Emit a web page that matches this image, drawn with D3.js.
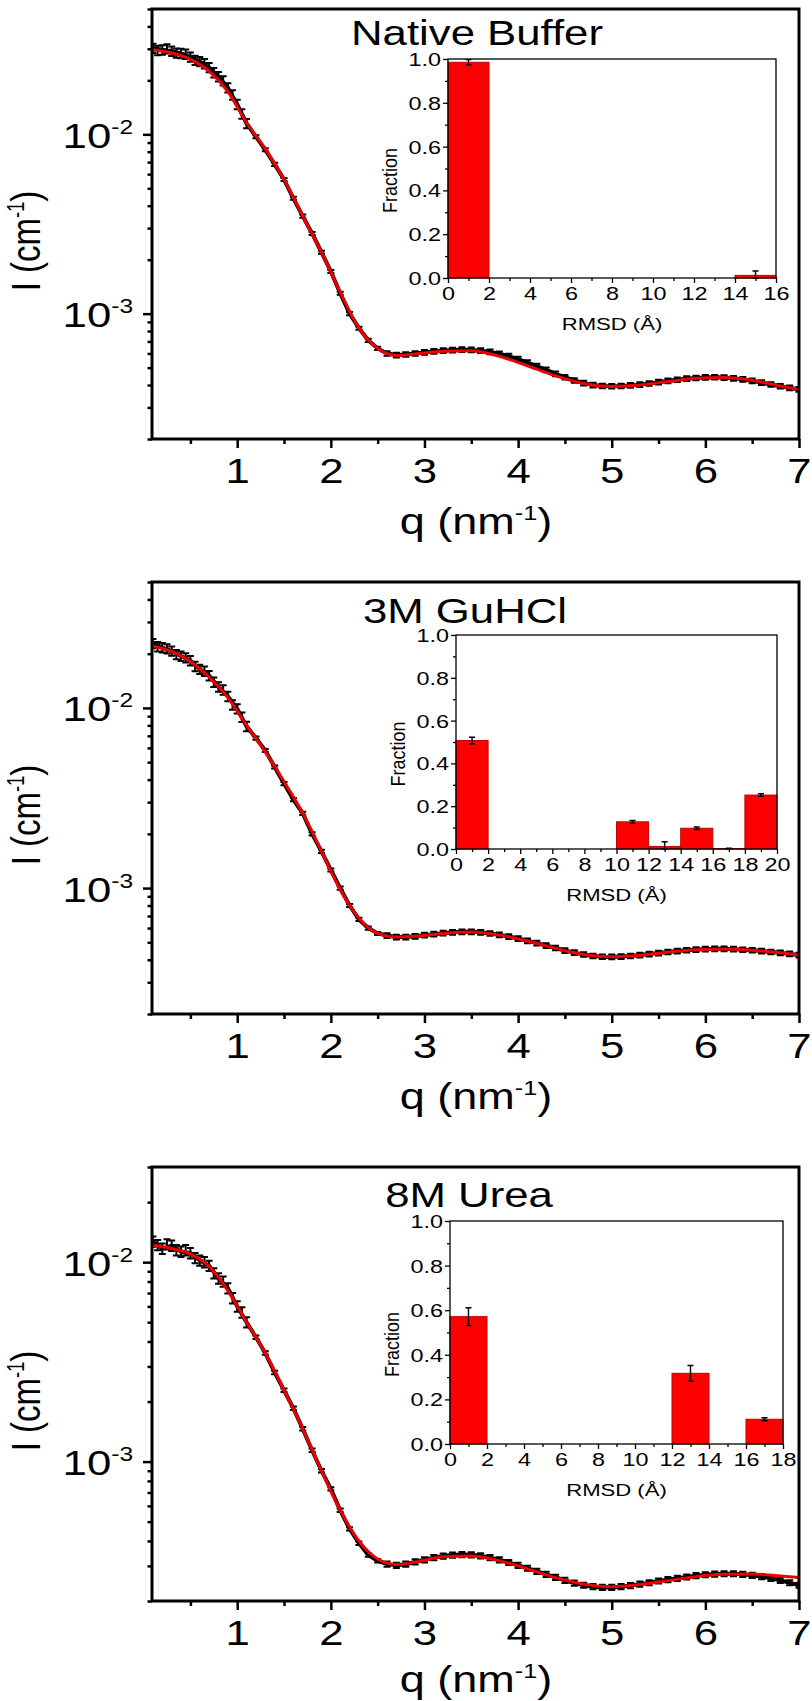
<!doctype html>
<html lang="en">
<head>
<meta charset="utf-8">
<title>SAXS fits with RMSD insets</title>
<script src="https://d3js.org/d3.v7.min.js"></script>
<style>
  body { margin: 0; background: #fff; }
  svg { display: block; }
  text { font-family: "Liberation Sans", Arial, Helvetica, sans-serif; fill: #000; }
</style>
</head>
<body>
<svg id="fig" width="812" height="1701"></svg>
<script>
// ---- data ----
const qData = [0.1, 0.2, 0.3, 0.4, 0.5, 0.6, 0.7, 0.8, 0.9, 1.0,
  1.1, 1.2, 1.3, 1.4, 1.5, 1.6, 1.7, 1.8, 1.9, 2.0,
  2.1, 2.2, 2.3, 2.4, 2.5, 2.6, 2.7, 2.8, 2.9, 3.0,
  3.1, 3.2, 3.3, 3.4, 3.5, 3.6, 3.7, 3.8, 3.9, 4.0,
  4.1, 4.2, 4.3, 4.4, 4.5, 4.6, 4.7, 4.8, 4.9, 5.0,
  5.1, 5.2, 5.3, 5.4, 5.5, 5.6, 5.7, 5.8, 5.9, 6.0,
  6.1, 6.2, 6.3, 6.4, 6.5, 6.6, 6.7, 6.8, 6.9, 7.0];

const nativeI = [0.0302, 0.0296, 0.0291, 0.0283, 0.0270, 0.0255, 0.0236, 0.0210, 0.0182, 0.0147,
  0.0115, 0.0097, 0.0082, 0.0068, 0.0056, 0.0044, 0.0035, 0.0028, 0.0022, 0.00172,
  0.00130, 0.00100, 0.00083, 0.00071, 0.00064, 0.000600, 0.000588, 0.000592, 0.000600, 0.000608,
  0.000616, 0.000622, 0.000627, 0.000630, 0.000628, 0.000622, 0.000612, 0.000598, 0.000580, 0.000558,
  0.000534, 0.000510, 0.000486, 0.000462, 0.000442, 0.000424, 0.000410, 0.000400, 0.000395, 0.000394,
  0.000395, 0.000398, 0.000402, 0.000408, 0.000415, 0.000422, 0.000428, 0.000434, 0.000438, 0.000441,
  0.000442, 0.000440, 0.000436, 0.000430, 0.000422, 0.000413, 0.000403, 0.000394, 0.000386, 0.000378];

const guhclI = [0.0228, 0.0216, 0.0207, 0.0194, 0.0183, 0.0164, 0.0151, 0.0131, 0.0116, 0.0099,
  0.0079, 0.0068, 0.0058, 0.0047, 0.0038, 0.0031, 0.0026, 0.0020, 0.00160, 0.00126,
  0.00100, 0.00080, 0.00067, 0.00060, 0.00056, 0.000545, 0.000535, 0.000535, 0.000540, 0.000548,
  0.000555, 0.000562, 0.000568, 0.000572, 0.000572, 0.000568, 0.000560, 0.000550, 0.000538, 0.000525,
  0.000510, 0.000495, 0.000480, 0.000465, 0.000450, 0.000438, 0.000428, 0.000420, 0.000416, 0.000415,
  0.000417, 0.000420, 0.000425, 0.000430, 0.000436, 0.000442, 0.000447, 0.000452, 0.000456, 0.000458,
  0.000460, 0.000460, 0.000458, 0.000455, 0.000452, 0.000447, 0.000442, 0.000437, 0.000431, 0.000425];

const ureaI = [0.0127, 0.0117, 0.0121, 0.0113, 0.0111, 0.0102, 0.0096, 0.0083, 0.0074, 0.0060,
  0.0050, 0.0042, 0.0035, 0.0028, 0.00228, 0.00185, 0.00146, 0.00114, 0.00090, 0.00073,
  0.00057, 0.00046, 0.00039, 0.00034, 0.000318, 0.000306, 0.000302, 0.000306, 0.000314, 0.000322,
  0.000330, 0.000336, 0.000340, 0.000342, 0.000341, 0.000337, 0.000330, 0.000322, 0.000312, 0.000302,
  0.000292, 0.000282, 0.000272, 0.000263, 0.000254, 0.000246, 0.000240, 0.000236, 0.000234, 0.000234,
  0.000236, 0.000239, 0.000243, 0.000247, 0.000252, 0.000256, 0.000260, 0.000264, 0.000268, 0.000271,
  0.000273, 0.000274, 0.000274, 0.000272, 0.000269, 0.000265, 0.000260, 0.000254, 0.000247, 0.000240];

// extra noisy points in the dense low-q region
const qExtra = [0.15, 0.25, 0.35, 0.45, 0.55, 0.65, 0.75, 0.85, 0.95, 1.05];
const nativeExtra = [0.0294, 0.0300, 0.0284, 0.0280, 0.0259, 0.0248, 0.0221, 0.0199, 0.0166, 0.0130];
const guhclExtra = [0.0219, 0.0213, 0.0198, 0.0190, 0.0170, 0.0160, 0.0139, 0.0126, 0.0104, 0.0089];
const ureaExtra = [0.0122, 0.0123, 0.0115, 0.0115, 0.0105, 0.0100, 0.0088, 0.0080, 0.0066, 0.0056];

// relative error bar half-size by q range [upper q, rel. error]
const errRel = [[1.15, 0.06], [2.55, 0.02], [7.1, 0.03]];

const qFit = [0.09, 0.3, 0.5, 0.7, 0.9, 1.1, 1.3, 1.5, 1.7, 1.9, 2.1, 2.3, 2.5, 2.7, 2.9,
  3.2, 3.5, 3.8, 4.1, 4.4, 4.7, 5.0, 5.3, 5.6, 5.9, 6.2, 6.5, 6.8, 7.0];
const nativeFit = [0.0296, 0.0284, 0.0262, 0.0225, 0.0173, 0.0116, 0.0083, 0.0056, 0.0035, 0.0022, 0.00132,
  0.00083, 0.00064, 0.000585, 0.000595, 0.000618, 0.000622, 0.000578, 0.000512, 0.000450, 0.000408,
  0.000393, 0.000400, 0.000418, 0.000436, 0.000440, 0.000425, 0.000395, 0.000378];
const guhclFit = [0.0221, 0.0206, 0.0181, 0.0148, 0.0114, 0.0080, 0.0057, 0.0039, 0.0026, 0.00160, 0.00098,
  0.00068, 0.00056, 0.000535, 0.000540, 0.000560, 0.000570, 0.000548, 0.000508, 0.000463, 0.000428,
  0.000416, 0.000424, 0.000441, 0.000455, 0.000459, 0.000452, 0.000437, 0.000425];
const ureaFit = [0.0122, 0.0117, 0.0110, 0.0095, 0.0072, 0.0050, 0.0035, 0.00228, 0.00146, 0.00090, 0.00057,
  0.00040, 0.000325, 0.000305, 0.000313, 0.000333, 0.000336, 0.000318, 0.000290, 0.000262, 0.000243,
  0.000236, 0.000242, 0.000253, 0.000265, 0.000272, 0.000273, 0.000267, 0.000262];

// RMSD histograms (bin centres, 2 A wide bins)
const nativeBins = [1, 15];
const nativeFrac = [0.985, 0.012];
const nativeErr = [0.012, 0.02];
const guhclBins = [1, 11, 13, 15, 17, 19];
const guhclFrac = [0.507, 0.127, 0.012, 0.097, 0.002, 0.252];
const guhclErr = [0.015, 0.006, 0.022, 0.006, 0.002, 0.006];
const ureaBins = [1, 13, 17];
const ureaFrac = [0.571, 0.317, 0.111];
const ureaErr = [0.04, 0.035, 0.007];

// ticks
const qTicks = [1, 2, 3, 4, 5, 6, 7];
const qMinor = [0.5, 1.5, 2.5, 3.5, 4.5, 5.5, 6.5];
const yMajor = [1e-3, 1e-2];
const yMinor = [2e-4, 3e-4, 4e-4, 5e-4, 6e-4, 7e-4, 8e-4, 9e-4,
  2e-3, 3e-3, 4e-3, 5e-3, 6e-3, 7e-3, 8e-3, 9e-3, 2e-2, 3e-2, 4e-2, 5e-2];
const fracTicks = [0, 0.2, 0.4, 0.6, 0.8, 1.0];
const fracMinor = [0.1, 0.3, 0.5, 0.7, 0.9];
const rmsdTicks16 = [0, 2, 4, 6, 8, 10, 12, 14, 16];
const rmsdTicks20 = [0, 2, 4, 6, 8, 10, 12, 14, 16, 18, 20];
const rmsdTicks18 = [0, 2, 4, 6, 8, 10, 12, 14, 16, 18];

// ---- layout ----
const LEFT = 152, RIGHT = 799;
const S_MAIN = 1.25, S_INSET = 1.3;   // the figure text is horizontally stretched
const RED = "#ee0000";

const panels = [
  {title: "Native Buffer", I: nativeI, extra: nativeExtra, fit: nativeFit, top: 9, bottom: 439, yDom: [2e-4, 5e-2],
   titleX: 477, titleY: 45, qLabelY: 534,
   bins: nativeBins, frac: nativeFrac, err: nativeErr, xTicks: rmsdTicks16, xMax: 16,
   inset: {left: 448, right: 776, top: 59, bottom: 278}},
  {title: "3M GuHCl", I: guhclI, extra: guhclExtra, fit: guhclFit, top: 582, bottom: 1014, yDom: [2e-4, 5e-2],
   titleX: 465, titleY: 623, qLabelY: 1109,
   bins: guhclBins, frac: guhclFrac, err: guhclErr, xTicks: rmsdTicks20, xMax: 20,
   inset: {left: 456, right: 777, top: 635, bottom: 849}},
  {title: "8M Urea", I: ureaI, extra: ureaExtra, fit: ureaFit, top: 1167, bottom: 1601, yDom: [2e-4, 3e-2],
   titleX: 469, titleY: 1207, qLabelY: 1692,
   bins: ureaBins, frac: ureaFrac, err: ureaErr, xTicks: rmsdTicks18, xMax: 18,
   inset: {left: 450, right: 783, top: 1221, bottom: 1444}}
];

const svg = d3.select("#fig");
svg.append("rect").attr("width", 812).attr("height", 1701).attr("fill", "#fff");

function relErr(q) {
  for (const [qmax, e] of errRel) if (q <= qmax) return e;
  return errRel[errRel.length - 1][1];
}

// text with a superscript part, e.g. I (cm^-1)
function supLabel(t, base, sup, tail, size, shift) {
  t.append("tspan").text(base);
  t.append("tspan").attr("font-size", size * 0.56).attr("dy", -shift).text(sup);
  if (tail) t.append("tspan").attr("dy", shift).text(tail);
}

function errPath(cx, y1, y2, w) {
  return `M${cx - w},${y1}H${cx + w}M${cx},${y1}V${y2}M${cx - w},${y2}H${cx + w}`;
}

function drawPanel(p, k) {
  const g = svg.append("g");
  const x = d3.scaleLinear().domain([0.09, 7]).range([LEFT, RIGHT]);
  const y = d3.scaleLog().domain(p.yDom).range([p.bottom, p.top]);

  const clipId = "clip" + k;
  g.append("clipPath").attr("id", clipId).append("rect")
    .attr("x", LEFT).attr("y", p.top).attr("width", RIGHT - LEFT).attr("height", p.bottom - p.top);

  const plot = g.append("g").attr("clip-path", `url(#${clipId})`);
  const pts = qData.map((q, i) => ({q: q, v: p.I[i], e: relErr(q)}));
  const extra = qExtra.map((q, i) => ({q: q, v: p.extra[i], e: relErr(q)}));

  // measured data: black line + error bars
  plot.append("path").datum(pts)
    .attr("fill", "none").attr("stroke", "#000").attr("stroke-width", 4)
    .attr("d", d3.line().x(d => x(d.q)).y(d => y(d.v)));
  plot.selectAll(".eb").data(pts.concat(extra)).join("path").attr("class", "eb")
    .attr("fill", "none").attr("stroke", "#000").attr("stroke-width", 2)
    .attr("d", d => errPath(x(d.q), y(d.v * (1 + d.e)), y(d.v * (1 - d.e)), 3.5));

  // fit
  plot.append("path").datum(qFit.map((q, i) => [q, p.fit[i]]))
    .attr("fill", "none").attr("stroke", RED).attr("stroke-width", 3)
    .attr("d", d3.line().x(d => x(d[0])).y(d => y(d[1])).curve(d3.curveMonotoneX));

  // axes
  const gxMinor = g.append("g").attr("transform", `translate(0,${p.bottom})`)
    .call(d3.axisBottom(x).tickValues(qMinor).tickSize(5).tickFormat(""));
  const gx = g.append("g").attr("transform", `translate(0,${p.bottom})`)
    .call(d3.axisBottom(x).tickValues(qTicks).tickSize(9).tickFormat(d3.format("d")));
  const ymin = p.yDom[0], ymax = p.yDom[1];
  const gyMinor = g.append("g").attr("transform", `translate(${LEFT},0)`)
    .call(d3.axisLeft(y).tickValues(yMinor.filter(v => v >= ymin && v <= ymax * 1.0001)).tickSize(4.5).tickFormat(""));
  const gy = g.append("g").attr("transform", `translate(${LEFT},0)`)
    .call(d3.axisLeft(y).tickValues(yMajor.filter(v => v >= ymin && v <= ymax)).tickSize(9).tickFormat(""));
  [gxMinor, gx, gyMinor, gy].forEach(a => {
    a.select(".domain").remove();
    a.selectAll("line").attr("stroke-width", 2.5);
    a.attr("font-family", null).attr("font-size", null);
  });
  gx.selectAll("text").attr("y", 44).attr("dy", null).attr("font-size", 35)
    .attr("transform", `scale(${S_MAIN},1)`);
  gy.selectAll("text").each(function(d) {
    const t = d3.select(this).attr("x", -19 / S_MAIN).attr("dy", 13).attr("font-size", 35)
      .attr("transform", `scale(${S_MAIN},1)`);
    supLabel(t, "10", "-" + Math.round(-Math.log10(d)), null, 35, 14);
  });

  // frame
  g.append("rect").attr("x", LEFT).attr("y", p.top).attr("width", RIGHT - LEFT).attr("height", p.bottom - p.top)
    .attr("fill", "none").attr("stroke", "#000").attr("stroke-width", 3);

  // axis titles
  const qt = g.append("text").attr("text-anchor", "middle").attr("font-size", 36)
    .attr("transform", `translate(476,${p.qLabelY}) scale(${S_MAIN},1)`);
  supLabel(qt, "q (nm", "-1", ")", 36, 14);
  const it = g.append("text").attr("text-anchor", "middle").attr("font-size", 33)
    .attr("transform", `translate(40,${(p.top + p.bottom) / 2 + 17}) scale(${S_MAIN},1) rotate(-90)`);
  supLabel(it, "I (cm", "-1", ")", 33, 13);

  // title
  g.append("text").attr("text-anchor", "middle").attr("font-size", 35)
    .attr("transform", `translate(${p.titleX},${p.titleY}) scale(${S_MAIN},1)`)
    .text(p.title);

  drawInset(g, p);
}

function drawInset(g, p) {
  const b = p.inset;
  const ix = d3.scaleLinear().domain([0, p.xMax]).range([b.left, b.right]);
  const iy = d3.scaleLinear().domain([0, 1]).range([b.bottom, b.top]);
  const ig = g.append("g");
  ig.append("rect").attr("x", b.left).attr("y", b.top).attr("width", b.right - b.left).attr("height", b.bottom - b.top)
    .attr("fill", "#fff");

  const bars = p.bins.map((c, i) => ({c: c, f: p.frac[i], e: p.err[i]}));
  ig.selectAll(".bar").data(bars).join("rect").attr("class", "bar")
    .attr("x", d => ix(d.c - 1)).attr("width", d => ix(d.c + 1) - ix(d.c - 1))
    .attr("y", d => iy(d.f)).attr("height", d => iy(0) - iy(d.f))
    .attr("fill", "#ff0000").attr("stroke", "#c00000").attr("stroke-width", 1);
  ig.selectAll(".ebar").data(bars).join("path").attr("class", "ebar")
    .attr("fill", "none").attr("stroke", "#000").attr("stroke-width", 1.4)
    .attr("d", d => errPath(ix(d.c), iy(d.f + d.e), iy(Math.max(0, d.f - d.e)), 3));

  const xMinor = p.xTicks.slice(0, -1).map(v => v + 1);
  const axes = [
    ig.append("g").attr("transform", `translate(0,${b.bottom})`)
      .call(d3.axisBottom(ix).tickValues(xMinor).tickSize(3).tickFormat("")),
    ig.append("g").attr("transform", `translate(0,${b.bottom})`)
      .call(d3.axisBottom(ix).tickValues(p.xTicks).tickSize(5).tickFormat(d3.format("d"))),
    ig.append("g").attr("transform", `translate(${b.left},0)`)
      .call(d3.axisLeft(iy).tickValues(fracMinor).tickSize(3).tickFormat("")),
    ig.append("g").attr("transform", `translate(${b.left},0)`)
      .call(d3.axisLeft(iy).tickValues(fracTicks).tickSize(5).tickFormat(d3.format(".1f")))
  ];
  axes.forEach(a => {
    a.select(".domain").remove();
    a.selectAll("line").attr("stroke-width", 1.3);
    a.attr("font-family", null).attr("font-size", null);
  });
  axes[1].selectAll("text").attr("y", 22).attr("dy", null).attr("font-size", 18)
    .attr("transform", `scale(${S_INSET},1)`);
  axes[3].selectAll("text").attr("x", -7 / S_INSET).attr("dy", "0.36em").attr("font-size", 18)
    .attr("transform", `scale(${S_INSET},1)`);

  ig.append("rect").attr("x", b.left).attr("y", b.top).attr("width", b.right - b.left).attr("height", b.bottom - b.top)
    .attr("fill", "none").attr("stroke", "#000").attr("stroke-width", 1.3);

  ig.append("text").attr("text-anchor", "middle").attr("font-size", 17)
    .attr("transform", `translate(${(b.left + b.right) / 2},${b.bottom + 52}) scale(${S_INSET},1)`)
    .text("RMSD (\u00c5)");
  ig.append("text").attr("text-anchor", "middle").attr("font-size", 18)
    .attr("transform", `translate(${b.left - 51},${(b.top + b.bottom) / 2 + 12}) scale(1.15,1) rotate(-90)`)
    .text("Fraction");
}

panels.forEach(drawPanel);
</script>
</body>
</html>
